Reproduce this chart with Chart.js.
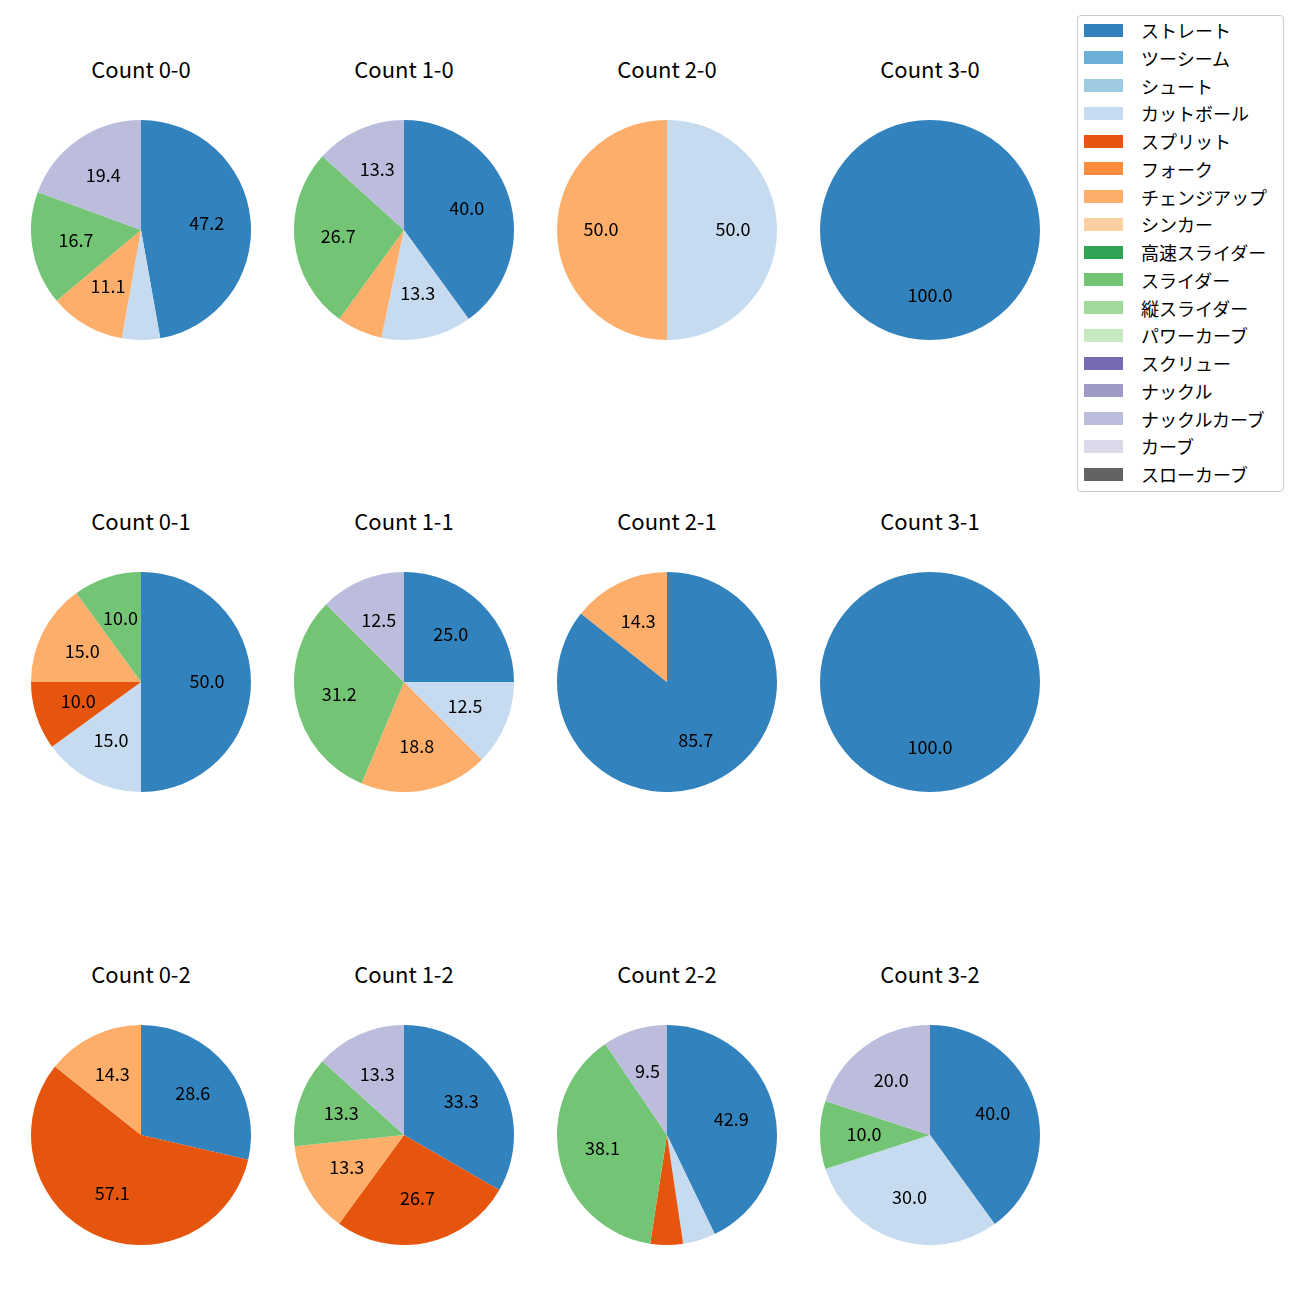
<!DOCTYPE html>
<html><head><meta charset="utf-8">
<script src="https://cdn.jsdelivr.net/npm/chart.js@4.4.0/dist/chart.umd.min.js"></script>
<style>
body{margin:0;background:#fff;width:1300px;height:1300px;position:relative;font-family:"Noto Sans CJK JP","Noto Sans",sans-serif;}
.title{position:absolute;width:260px;text-align:center;font-size:22px;line-height:26px;color:#000;}
.pie{position:absolute;width:220px;height:220px;}
#legend{position:absolute;left:1077px;top:15px;width:207px;height:477px;border:1px solid #cccccc;border-radius:4px;box-sizing:border-box;}
.li{position:absolute;left:6px;height:22px;display:flex;align-items:center;font-size:18px;color:#000;}
.sw{width:39px;height:13px;margin-right:18px;}
</style></head>
<body>
<div id="legend"></div>
<script>
const pitchTypes = ["ストレート","ツーシーム","シュート","カットボール","スプリット","フォーク","チェンジアップ","シンカー","高速スライダー","スライダー","縦スライダー","パワーカーブ","スクリュー","ナックル","ナックルカーブ","カーブ","スローカーブ"];
const pitchColors = ["#3182bd","#6baed6","#9ecae1","#c6dbef","#e6550d","#fd8d3c","#fdae6b","#fdd0a2","#31a354","#74c476","#a1d99b","#c7e9c0","#756bb1","#9e9ac8","#bcbddc","#dadaeb","#636363"];
const countTitles = ["Count 0-0","Count 1-0","Count 2-0","Count 3-0","Count 0-1","Count 1-1","Count 2-1","Count 3-1","Count 0-2","Count 1-2","Count 2-2","Count 3-2"];
const count00 = [47.2,0,0,5.6,0,0,11.1,0,0,16.7,0,0,0,0,19.4,0,0];
const count10 = [40.0,0,0,13.3,0,0,6.7,0,0,26.7,0,0,0,0,13.3,0,0];
const count20 = [0,0,0,50.0,0,0,50.0,0,0,0,0,0,0,0,0,0,0];
const count30 = [100.0,0,0,0,0,0,0,0,0,0,0,0,0,0,0,0,0];
const count01 = [50.0,0,0,15.0,10.0,0,15.0,0,0,10.0,0,0,0,0,0,0,0];
const count11 = [25.0,0,0,12.5,0,0,18.8,0,0,31.2,0,0,0,0,12.5,0,0];
const count21 = [85.7,0,0,0,0,0,14.3,0,0,0,0,0,0,0,0,0,0];
const count31 = [100.0,0,0,0,0,0,0,0,0,0,0,0,0,0,0,0,0];
const count02 = [28.6,0,0,0,57.1,0,14.3,0,0,0,0,0,0,0,0,0,0];
const count12 = [33.3,0,0,0,26.7,0,13.3,0,0,13.3,0,0,0,0,13.3,0,0];
const count22 = [42.9,0,0,4.8,4.8,0,0,0,0,38.1,0,0,0,0,9.5,0,0];
const count32 = [40.0,0,0,30.0,0,0,0,0,0,10.0,0,0,0,0,20.0,0,0];
const countValues = [count00,count10,count20,count30,count01,count11,count21,count31,count02,count12,count22,count32];

const colX = [141,404,667,930];
const rowY = [230,682,1135];
const R = 110;

const pctLabels = {
  id:'pctLabels',
  afterDatasetsDraw(chart){
    const ctx = chart.ctx;
    const meta = chart.getDatasetMeta(0);
    const vals = chart.data.datasets[0].data;
    ctx.save();
    ctx.font = '18px "Noto Sans CJK JP", sans-serif';
    ctx.fillStyle = '#000';
    ctx.textAlign = 'center';
    ctx.textBaseline = 'middle';
    meta.data.forEach((arc,i)=>{
      const v = vals[i];
      if (v < 8) return;
      const p = arc.getProps(['x','y','startAngle','endAngle','outerRadius'], true);
      const a = (p.startAngle + p.endAngle)/2;
      const r = p.outerRadius*0.6;
      ctx.fillText(v.toFixed(1), p.x + r*Math.cos(a), p.y + r*Math.sin(a) - 1);
    });
    ctx.restore();
  }
};

countValues.forEach((vals,k)=>{
  const cx = colX[k%4], cy = rowY[Math.floor(k/4)];
  const t = document.createElement('div');
  t.className='title'; t.textContent = countTitles[k];
  t.style.left = (cx-130)+'px'; t.style.top = (cy-230+69-14)+'px';
  document.body.appendChild(t);
  const d = document.createElement('div');
  d.className='pie'; d.style.left=(cx-R)+'px'; d.style.top=(cy-R)+'px';
  const c = document.createElement('canvas');
  c.width = 2*R; c.height = 2*R;
  d.appendChild(c); document.body.appendChild(d);
  new Chart(c,{
    type:'pie',
    data:{labels:pitchTypes,datasets:[{data:vals,backgroundColor:pitchColors,borderWidth:0}]},
    options:{responsive:false,animation:false,layout:{padding:0},
      plugins:{legend:{display:false},tooltip:{enabled:false}}},
    plugins:[pctLabels]
  });
});

const lg = document.getElementById('legend');
pitchTypes.forEach((name,i)=>{
  const row = document.createElement('div');
  row.className='li'; row.style.top = (3 + i*27.75)+'px';
  const sw = document.createElement('div'); sw.className='sw'; sw.style.background = pitchColors[i];
  const tx = document.createElement('span'); tx.textContent = name;
  row.appendChild(sw); row.appendChild(tx); lg.appendChild(row);
});
</script>
</body></html>
